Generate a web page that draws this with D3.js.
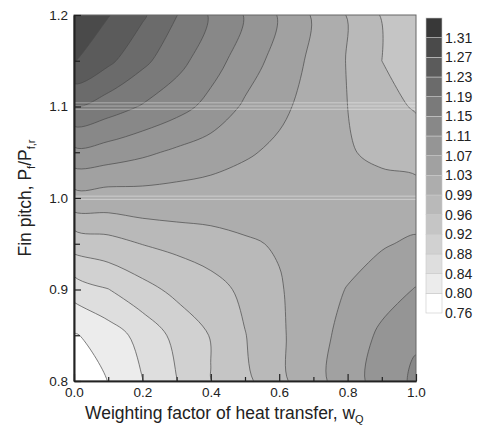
<!DOCTYPE html>
<html>
<head>
<meta charset="utf-8">
<script src="https://cdn.jsdelivr.net/npm/d3@7"></script>
<style>
  body { margin: 0; background: #fff; }
  svg { font-family: Arial, "Liberation Sans", sans-serif; }
</style>
</head>
<body>
<div id="chart"></div>
<script>
// grid
const wQ = [0.0, 0.1, 0.2, 0.3, 0.4, 0.5, 0.6, 0.7, 0.8, 0.9, 1.0];
const pitch = [0.80, 0.85, 0.90, 0.95, 1.00, 1.05, 1.10, 1.15, 1.20];

// one row per pitch value, bottom (0.80) to top (1.20)
const row080 = [0.762, 0.801, 0.839, 0.879, 0.919, 0.953, 0.981, 1.015, 1.052, 1.087, 1.118];
const row085 = [0.796, 0.821, 0.853, 0.891, 0.922, 0.959, 0.984, 1.013, 1.045, 1.078, 1.104];
const row090 = [0.857, 0.879, 0.907, 0.930, 0.948, 0.967, 0.987, 1.009, 1.032, 1.053, 1.072];
const row095 = [0.938, 0.948, 0.961, 0.970, 0.977, 0.986, 0.993, 1.000, 1.012, 1.026, 1.037];
const row100 = [1.013, 1.010, 1.013, 1.012, 1.010, 1.008, 1.003, 1.000, 0.998, 1.005, 1.003];
const row105 = [1.100, 1.092, 1.078, 1.063, 1.050, 1.035, 1.022, 1.005, 0.993, 0.982, 0.977];
const row110 = [1.189, 1.169, 1.147, 1.125, 1.098, 1.064, 1.039, 1.015, 0.990, 0.970, 0.957];
const row115 = [1.272, 1.239, 1.200, 1.164, 1.127, 1.091, 1.055, 1.021, 0.988, 0.960, 0.946];
const row120 = [1.300, 1.272, 1.236, 1.191, 1.146, 1.108, 1.067, 1.026, 0.988, 0.958, 0.935];
const ratio = [row080, row085, row090, row095, row100, row105, row110, row115, row120];

const levels = [0.76, 0.80, 0.84, 0.88, 0.92, 0.96, 0.99, 1.03, 1.07, 1.11, 1.15, 1.19, 1.23, 1.27, 1.31];
const shades = ["#ffffff", "#ececec", "#dedede", "#d1d1d1", "#c5c5c5", "#b9b9b9", "#adadad", "#a1a1a1",
                "#959595", "#888888", "#7a7a7a", "#6b6b6b", "#5b5b5b", "#4a4a4a", "#383838"];

const xMajor = [0, 0.2, 0.4, 0.6, 0.8, 1.0];
const xMinor = [0.1, 0.3, 0.5, 0.7, 0.9];
const yMajor = [0.8, 0.9, 1.0, 1.1, 1.2];
const yMinor = [0.85, 0.95, 1.05, 1.15];

// faint horizontal raster streaks seen in the source image
const streaks = [1.104, 1.1005, 1.097, 1.002, 0.9985];

const width = 480, height = 430;
const x = d3.scaleLinear().domain([0, 1]).range([74, 416]);
const y = d3.scaleLinear().domain([0.8, 1.2]).range([381, 15]);

const svg = d3.select('#chart').append('svg')
  .attr('width', width)
  .attr('height', height);

svg.append('clipPath').attr('id', 'plot-clip')
  .append('rect')
  .attr('x', x(0)).attr('y', y(1.2))
  .attr('width', x(1) - x(0)).attr('height', y(0.8) - y(1.2));

// grid index -> data coords (d3.contours puts sample i at i + 0.5)
const gx = d3.scaleLinear().domain([0.5, wQ.length - 0.5]).range([wQ[0], wQ[wQ.length - 1]]);
const gy = d3.scaleLinear().domain([0.5, pitch.length - 0.5]).range([pitch[0], pitch[pitch.length - 1]]);

const ringLine = d3.line().curve(d3.curveCatmullRomClosed.alpha(0.5));

// smooth each ring so the isolines look less faceted
function contourPath(multi) {
  let d = '';
  multi.coordinates.forEach(polygon => {
    polygon.forEach(ring => {
      const pts = ring.slice(0, ring.length - 1).map(p => [x(gx(p[0])), y(gy(p[1]))]);
      if (pts.length > 2) d += ringLine(pts);
    });
  });
  return d;
}

const bands = d3.contours()
  .size([wQ.length, pitch.length])
  .thresholds(levels)(ratio.flat());

const plot = svg.append('g').attr('clip-path', 'url(#plot-clip)');

plot.append('rect')
  .attr('x', x(0)).attr('y', y(1.2))
  .attr('width', x(1) - x(0)).attr('height', y(0.8) - y(1.2))
  .attr('fill', shades[0]);

plot.selectAll('path.band')
  .data(bands)
  .join('path')
  .attr('class', 'band')
  .attr('d', contourPath)
  .attr('fill', (d, i) => shades[i])
  .attr('fill-rule', 'evenodd')
  .attr('stroke', 'none');

plot.selectAll('path.iso')
  .data(bands)
  .join('path')
  .attr('class', 'iso')
  .attr('d', contourPath)
  .attr('fill', 'none')
  .attr('stroke', '#4a4a4a')
  .attr('stroke-width', 0.7);

plot.selectAll('line.streak')
  .data(streaks)
  .join('line')
  .attr('class', 'streak')
  .attr('x1', x(0)).attr('x2', x(1))
  .attr('y1', d => y(d)).attr('y2', d => y(d))
  .attr('stroke', '#ffffff')
  .attr('stroke-opacity', 0.4)
  .attr('stroke-width', 1);

// frame
svg.append('rect')
  .attr('x', x(0)).attr('y', y(1.2))
  .attr('width', x(1) - x(0)).attr('height', y(0.8) - y(1.2))
  .attr('fill', 'none')
  .attr('stroke', '#666')
  .attr('stroke-width', 1);

// axes, ticks pointing inward
svg.append('g')
  .attr('transform', `translate(0,${y(0.8)})`)
  .call(d3.axisBottom(x).tickValues(xMajor).tickSizeInner(-7).tickSizeOuter(0)
    .tickPadding(6).tickFormat(d3.format('.1f')));
svg.append('g')
  .attr('transform', `translate(0,${y(0.8)})`)
  .call(d3.axisBottom(x).tickValues(xMinor).tickSizeInner(-4).tickSizeOuter(0).tickFormat(''));

svg.append('g')
  .attr('transform', `translate(${x(0)},0)`)
  .call(d3.axisLeft(y).tickValues(yMajor).tickSizeInner(-7).tickSizeOuter(0)
    .tickPadding(6).tickFormat(d3.format('.1f')));
svg.append('g')
  .attr('transform', `translate(${x(0)},0)`)
  .call(d3.axisLeft(y).tickValues(yMinor).tickSizeInner(-6).tickSizeOuter(0).tickFormat(''));

svg.selectAll('.domain').attr('stroke', '#222').attr('stroke-width', 1.6);
svg.selectAll('.tick line').attr('stroke', '#222').attr('stroke-width', 1.2);
svg.selectAll('.tick text').attr('font-size', 13.5).attr('fill', '#222')
  .attr('font-family', 'Arial, "Liberation Sans", sans-serif');

// axis titles
const xTitle = svg.append('text')
  .attr('x', 85).attr('y', 419)
  .attr('font-size', 17.5).attr('fill', '#222');
xTitle.append('tspan').text('Weighting factor of heat transfer, w');
xTitle.append('tspan').attr('font-size', 11).attr('dy', 4).text('Q');

const yTitle = svg.append('text')
  .attr('transform', `translate(31,${y(1.0)}) rotate(-90)`)
  .attr('text-anchor', 'middle')
  .attr('font-size', 17.5).attr('fill', '#222');
yTitle.append('tspan').text('Fin pitch, P');
yTitle.append('tspan').attr('font-size', 11).attr('dy', 4).text('f');
yTitle.append('tspan').attr('dy', -4).text('/P');
yTitle.append('tspan').attr('font-size', 11).attr('dy', 4).text('f,r');

// colour bar
const cb = d3.scaleLinear().domain([0, levels.length]).range([313, 18]);
const legend = svg.append('g');
legend.selectAll('rect')
  .data(levels)
  .join('rect')
  .attr('x', 426)
  .attr('width', 16)
  .attr('y', (d, i) => cb(i + 1))
  .attr('height', (d, i) => cb(i) - cb(i + 1))
  .attr('fill', (d, i) => shades[i])
  .attr('stroke', '#c8c8c8')
  .attr('stroke-width', 0.6);

legend.selectAll('text')
  .data(levels)
  .join('text')
  .attr('x', 445)
  .attr('y', (d, i) => cb(i) + 5)
  .attr('font-size', 14)
  .attr('fill', '#222')
  .text(d => d3.format('.2f')(d));
</script>
</body>
</html>
